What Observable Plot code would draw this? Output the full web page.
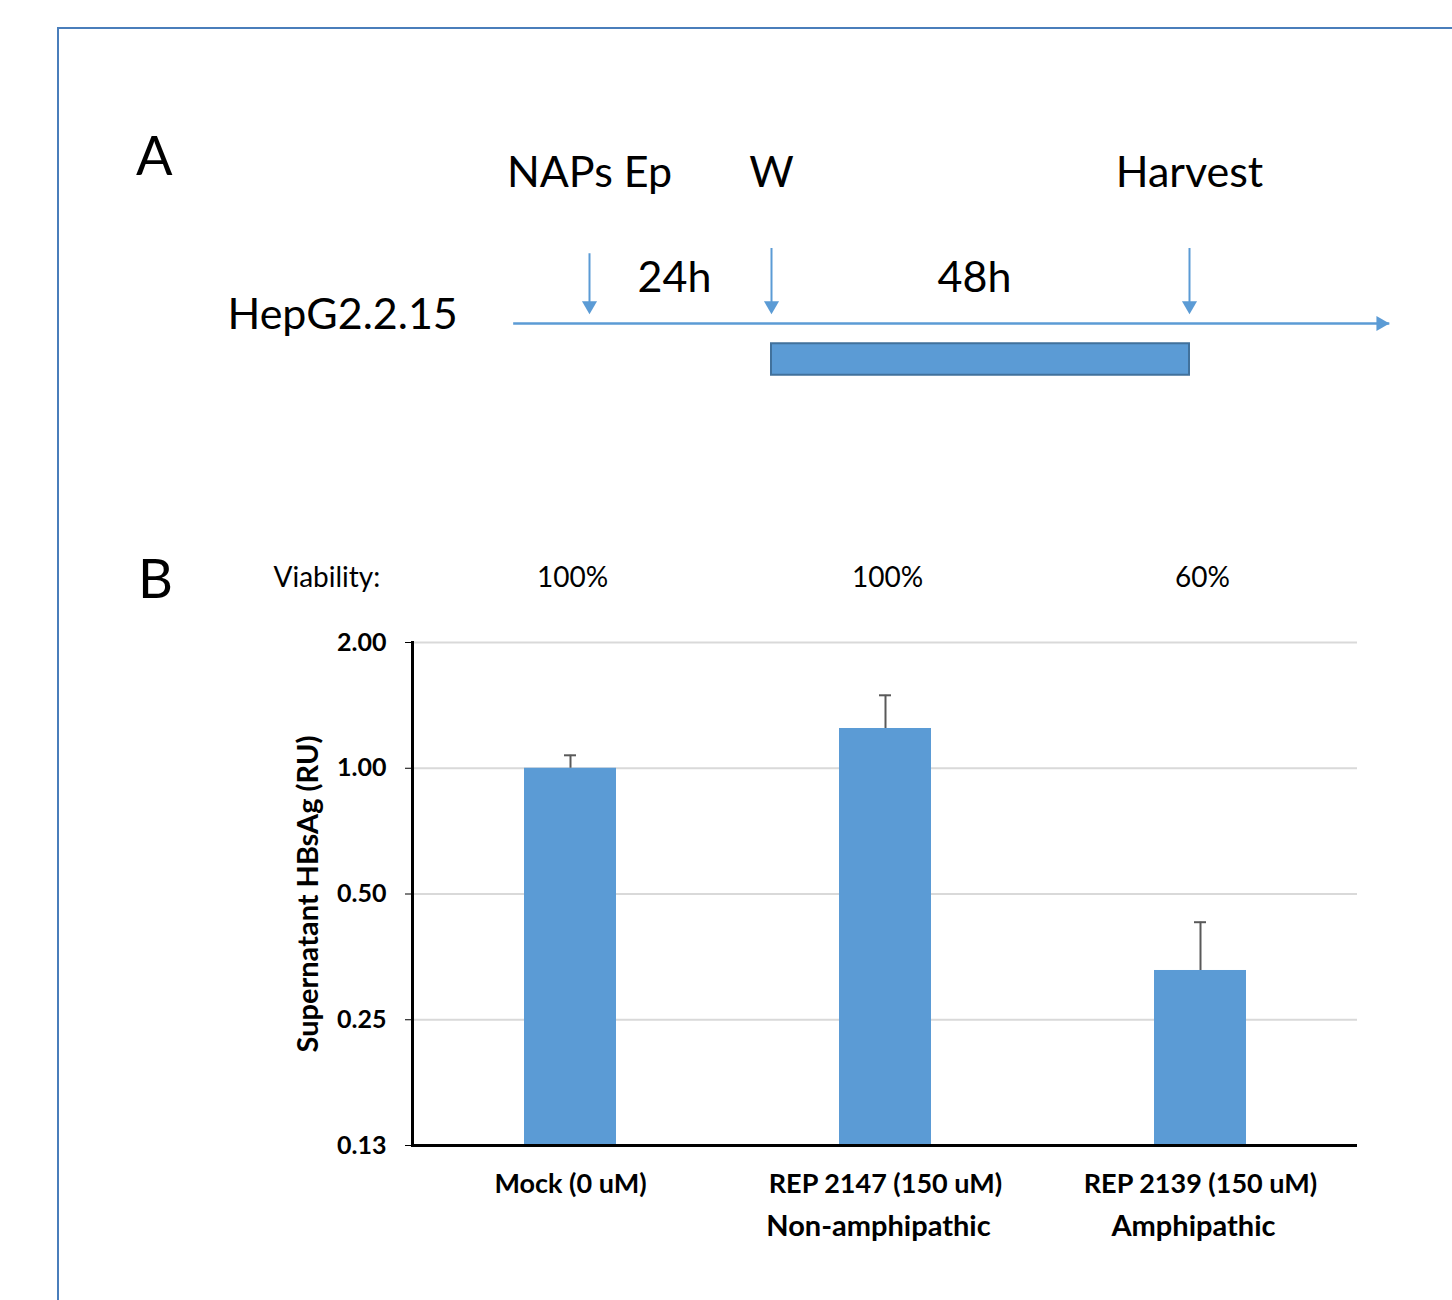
<!DOCTYPE html>
<html>
<head>
<meta charset="utf-8">
<script src="https://cdn.jsdelivr.net/npm/d3@7"></script>
<script src="https://cdn.jsdelivr.net/npm/@observablehq/plot@0.6"></script>
<style>
  html, body { margin: 0; padding: 0; background: #fff; }
  #page { position: relative; width: 1452px; height: 1300px; overflow: hidden; background: #fff; font-family: Lato, "Open Sans", sans-serif; }
  #frame { position: absolute; left: 57px; top: 27px; width: 2000px; height: 2000px; border: 2px solid #4a7ebb; box-sizing: border-box; }
  .panel-letter { position: absolute; font-family: Lato, sans-serif; font-size: 54px; line-height: 1; color: #000; }
  #panelA, #panelB { position: absolute; left: 0; }
  #panelA { top: 0; }
  #panelB { top: 500px; }
</style>
</head>
<body>
<div id="page">
  <div id="frame"></div>
  <div class="panel-letter" style="left:136px; top:128px;">A</div>
  <div class="panel-letter" style="left:138px; top:551px;">B</div>
  <div id="panelA"></div>
  <div id="panelB"></div>
</div>
<script>
// ---------- Panel A data (timeline, hours) ----------
const eventNames = ["NAPs Ep", "W", "Harvest"];
const eventHours = [0, 24, 72];
const durationLabels = ["24h", "48h"];
const durationFrom = [0, 24];
const durationTo = [24, 72];
const timelineStart = -10;
const timelineEnd = 95;
const treatmentFrom = 24;
const treatmentTo = 72;
const cellLine = "HepG2.2.15";

// ---------- Panel B data ----------
const categories = ["Mock (0 uM)", "REP 2147 (150 uM)", "REP 2139 (150 uM)"];
const subLabels = ["", "Non-amphipathic", "Amphipathic"];
const values = [1.00, 1.245, 0.328];
const errors = [0.074, 0.25, 0.10];
const viability = ["100%", "100%", "60%"];
const yTicks = [0.125, 0.25, 0.5, 1, 2];
const yLabel = "Supernatant HBsAg (RU)";
const viabilityLabel = "Viability:";

const blue = "#5b9bd5";

// ---------- Panel A ----------
const events = eventNames.map((name, i) => ({name, hour: eventHours[i]}));
const durations = durationLabels.map((label, i) => ({label, mid: (durationFrom[i] + durationTo[i]) / 2}));

const panelA = Plot.plot({
  width: 1452,
  height: 480,
  margin: 0,
  style: {fontFamily: "Lato, 'Open Sans', sans-serif", color: "#000", background: "transparent"},
  x: {type: "linear", domain: [0, 24, 72], range: [589, 771, 1189], axis: null},
  y: {type: "linear", domain: [0, 1], range: [323, 248], axis: null},
  marks: [
    // main timeline
    Plot.ruleY([{start: timelineStart, end: timelineEnd}], {y: 0, x1: "start", x2: "end", stroke: blue, strokeWidth: 2.5}),
    Plot.dot([{end: timelineEnd}], {x: "end", y: 0, symbol: "triangle", rotate: 90, r: 5.6, fill: blue, stroke: "none", dx: -9}),
    // treatment period bar
    Plot.rect([{from: treatmentFrom, to: treatmentTo}], {x1: "from", x2: "to", y1: -0.27, y2: -0.69, fill: blue, stroke: "#41719c", strokeWidth: 2}),
    // event arrows
    Plot.ruleX(events, {x: "hour", y1: d => d.hour === 0 ? 0.93 : 1, y2: 0.2, stroke: blue, strokeWidth: 2}),
    Plot.dot(events, {x: "hour", y: 0.12, symbol: "triangle", rotate: 180, r: 5.6, fill: blue, stroke: "none", dy: -9}),
    // event labels
    Plot.text(events, {x: "hour", y: 2.0, text: "name", fontSize: 43, lineAnchor: "middle", fill: "#000"}),
    // durations
    Plot.text(durations, {x: "mid", y: 0.6, text: "label", dx: -6, fontSize: 43, lineAnchor: "middle", fill: "#000"}),
    // cell line label
    Plot.text([cellLine], {frameAnchor: "left", y: 0.107, dx: 227, textAnchor: "start", fontSize: 43, lineAnchor: "middle", fill: "#000"})
  ]
});
document.getElementById("panelA").appendChild(panelA);

// ---------- Panel B ----------
const data = categories.map((cat, i) => ({
  cat, sub: subLabels[i], value: values[i], upper: values[i] + errors[i], viability: viability[i]
}));

const panelB = Plot.plot({
  width: 1452,
  height: 800,
  marginTop: 142,
  marginBottom: 155,
  marginLeft: 412,
  marginRight: 95,
  style: {fontFamily: "Lato, 'Open Sans', sans-serif", color: "#000", background: "transparent"},
  x: {type: "band", domain: categories, paddingInner: 0.708, paddingOuter: 0.354, axis: null},
  y: {type: "log", base: 2, domain: [0.125, 2]},
  marks: [
    Plot.ruleY(yTicks.filter(d => d > 0.125), {stroke: "#d9d9d9", strokeWidth: 2}),
    Plot.barY(data, {x: "cat", y1: 0.125, y2: "value", fill: blue}),
    Plot.ruleX(data, {x: "cat", y1: "value", y2: "upper", stroke: "#595959", strokeWidth: 2}),
    Plot.tickY(data, {x: "cat", y: "upper", insetLeft: 40, insetRight: 40, stroke: "#595959", strokeWidth: 2}),
    Plot.axisY({ticks: yTicks, tickFormat: d => d.toFixed(2), tickSize: 7, tickPadding: 19, tickStrokeWidth: 2.5, stroke: "#000", fontSize: 25, fontWeight: "bold", label: null}),
    Plot.frame({anchor: "left", stroke: "#000", strokeWidth: 3}),
    Plot.ruleY([0.125], {stroke: "#000", strokeWidth: 3}),
    // category labels
    Plot.text(data, {x: "cat", y: 0.125, text: "cat", dy: 39, fontSize: 27, fontWeight: "bold", lineAnchor: "middle", fill: "#000"}),
    Plot.text(data, {x: "cat", y: 0.125, text: "sub", dy: 81, dx: -7, fontSize: 29, fontWeight: "bold", lineAnchor: "middle", fill: "#000"}),
    // viability row
    Plot.text(data, {x: "cat", y: 2, text: "viability", dy: -64, dx: 2, fontSize: 28, lineAnchor: "middle", fill: "#000"}),
    Plot.text([viabilityLabel], {frameAnchor: "top-left", dx: -139, dy: -64, textAnchor: "start", fontSize: 28, lineAnchor: "middle", fill: "#000"}),
    // y label
    Plot.text([yLabel], {frameAnchor: "left", dx: -104, rotate: -90, textAnchor: "middle", fontSize: 29, fontWeight: "bold", lineAnchor: "middle", fill: "#000"})
  ]
});
document.getElementById("panelB").appendChild(panelB);
</script>
</body>
</html>
